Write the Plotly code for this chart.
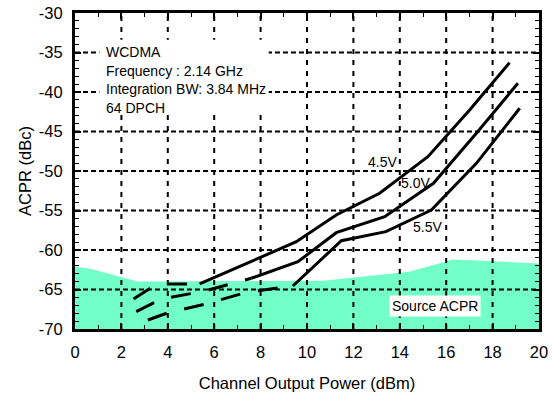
import plotly.graph_objects as go

# ACPR vs channel output power, three supply voltages
x_45 = [2.52, 3.53, 5.37, 9.54, 11.26, 13.13, 15.21, 17.01, 18.73]
y_45 = [-66.2, -64.3, -64.3, -58.95, -55.57, -52.82, -48.19, -42.28, -36.29]
solid_from_45 = 5.37

x_50 = [2.64, 3.72, 5.5, 7.60, 9.61, 11.26, 13.35, 15.45, 17.30, 19.09]
y_50 = [-67.81, -66.2, -65.25, -63.58, -61.48, -57.81, -55.78, -51.56, -45.23, -38.90]
solid_from_50 = 7.60

x_55 = [3.14, 4.0, 5.6, 7.4, 9.39, 11.48, 13.4, 15.36, 17.30, 19.17]
y_55 = [-68.86, -67.95, -66.85, -65.35, -64.56, -58.82, -57.68, -54.94, -49.03, -42.06]
solid_from_55 = 9.39

# Source ACPR floor (shaded region)
src_x = [0, 0.7, 2.7, 10.7, 14.4, 16.3, 20]
src_y = [-62.1, -62.4, -64.0, -63.9, -62.75, -61.2, -61.7]

x_range = [0, 20]
y_range = [-70, -30]
x_ticks = list(range(0, 21, 2))
y_ticks = list(range(-70, -29, 5))
x_ticktext = [str(v) for v in x_ticks]
y_ticktext = [str(v) for v in y_ticks]

info_lines = ["WCDMA", "Frequency : 2.14 GHz", "Integration BW: 3.84 MHz", "64 DPCH"]
curve_labels = [("4.5V", 13.24, -48.82), ("5.0V", 14.69, -51.56), ("5.5V", 15.21, -57.15)]

FONT = "Liberation Sans, Arial, Helvetica, sans-serif"
MINT = "#73FFC8"

fig = go.Figure()

# shaded source ACPR region down to the axis floor
fig.add_trace(go.Scatter(
    x=src_x + src_x[::-1],
    y=src_y + [y_range[0]] * len(src_x),
    fill="toself", fillcolor=MINT, mode="none",
    hoverinfo="skip", showlegend=False,
))

# dashed grid drawn above the shading, below the curves
gx, gy = [], []
for t in x_ticks[1:-1]:
    gx += [t, t, None]
    gy += [y_range[0], y_range[1], None]
fig.add_trace(go.Scatter(x=gx, y=gy, mode="lines",
                         line=dict(color="black", width=2, dash="5px,6px"),
                         hoverinfo="skip", showlegend=False))
hx, hy = [], []
for t in y_ticks[1:-1]:
    hx += [x_range[0], x_range[1], None]
    hy += [t, t, None]
fig.add_trace(go.Scatter(x=hx, y=hy, mode="lines",
                         line=dict(color="black", width=2, dash="5px,3px"),
                         hoverinfo="skip", showlegend=False))


def add_curve(xs, ys, split):
    i = xs.index(split)
    fig.add_trace(go.Scatter(x=xs[:i + 1], y=ys[:i + 1], mode="lines",
                             line=dict(color="black", width=3, dash="20px,18px"),
                             hoverinfo="skip", showlegend=False))
    fig.add_trace(go.Scatter(x=xs[i:], y=ys[i:], mode="lines",
                             line=dict(color="black", width=3),
                             hoverinfo="skip", showlegend=False))


add_curve(x_45, y_45, solid_from_45)
add_curve(x_50, y_50, solid_from_50)
add_curve(x_55, y_55, solid_from_55)

# white panel behind the measurement conditions
fig.add_shape(type="rect", xref="x", yref="y", x0=1.05, x1=8.35, y0=-42.9, y1=-33.4,
              fillcolor="white", line=dict(width=0), layer="above")

annotations = []
line_y0, line_step = -34.94, -2.37
for k, txt in enumerate(info_lines):
    annotations.append(dict(x=1.27, y=line_y0 + k * line_step, xref="x", yref="y",
                            text=txt, showarrow=False, xanchor="left", yanchor="middle",
                            font=dict(family=FONT, size=14, color="black")))
for txt, lx, ly in curve_labels:
    annotations.append(dict(x=lx, y=ly, xref="x", yref="y", text=txt, showarrow=False,
                            font=dict(family=FONT, size=14, color="black")))
annotations.append(dict(x=15.5, y=-67.1, xref="x", yref="y", text="Source ACPR",
                        showarrow=False, bgcolor="white", borderpad=2,
                        font=dict(family=FONT, size=14, color="black")))

axis_common = dict(
    showline=True, linecolor="black", linewidth=3, mirror="ticks",
    ticks="inside", ticklen=6, tickwidth=1.5, tickcolor="black",
    showgrid=False, zeroline=False, layer="above traces", automargin=False,
    tickfont=dict(family=FONT, size=16.5, color="black"),
)

fig.update_layout(
    width=552, height=396,
    margin=dict(l=75, r=13, t=13, b=67),
    paper_bgcolor="white", plot_bgcolor="white",
    showlegend=False,
    annotations=annotations,
    xaxis=dict(range=x_range, tickvals=x_ticks, ticktext=x_ticktext,
               minor=dict(dtick=1, ticks="inside", ticklen=4, tickcolor="black", tickwidth=1.2),
               ticklabelstandoff=6,
               title=dict(text="Channel Output Power (dBm)", standoff=18,
                          font=dict(family=FONT, size=16.5, color="black")),
               **axis_common),
    yaxis=dict(range=y_range, tickvals=y_ticks, ticktext=y_ticktext,
               minor=dict(dtick=1, ticks="inside", ticklen=4, tickcolor="black", tickwidth=1.2),
               ticklabelstandoff=6,
               title=dict(text="ACPR (dBc)", standoff=4,
                          font=dict(family=FONT, size=16.5, color="black")),
               **axis_common),
)

fig.write_html("out.html")
